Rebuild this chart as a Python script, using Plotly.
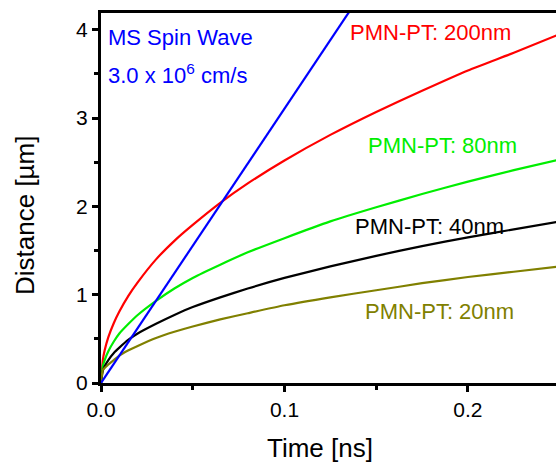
import plotly.graph_objects as go

# Time axis (ns)
t = [0, 0.001, 0.002, 0.004, 0.007, 0.01, 0.015, 0.02, 0.03, 0.04, 0.05, 0.065, 0.08,
     0.1, 0.125, 0.15, 0.175, 0.2, 0.225, 0.25]

# Distance (um)
d_200nm = [0, 0.26, 0.37, 0.52, 0.68, 0.81, 0.99, 1.14, 1.40, 1.61, 1.79, 2.04, 2.26,
           2.52, 2.81, 3.07, 3.31, 3.54, 3.74, 3.95]
d_80nm = [0, 0.19, 0.26, 0.36, 0.47, 0.56, 0.67, 0.77, 0.93, 1.07, 1.19, 1.34, 1.48,
          1.64, 1.83, 1.99, 2.14, 2.28, 2.41, 2.53]
d_40nm = [0, 0.14, 0.19, 0.26, 0.34, 0.40, 0.49, 0.56, 0.67, 0.77, 0.86, 0.97, 1.07,
          1.19, 1.32, 1.44, 1.55, 1.65, 1.74, 1.83]
d_20nm = [0, 0.15, 0.17, 0.21, 0.26, 0.31, 0.37, 0.42, 0.51, 0.58, 0.64, 0.72, 0.79,
          0.88, 0.97, 1.05, 1.13, 1.20, 1.26, 1.32]

# MS spin wave line
t_sw = [0, 0.14]
d_sw = [0, 4.35]

labels = ["PMN-PT: 200nm", "PMN-PT: 80nm", "PMN-PT: 40nm", "PMN-PT: 20nm"]
colors = ["#FF0000", "#00EE00", "#000000", "#808000"]

FONT = "Liberation Sans, Arial, sans-serif"

fig = go.Figure()
for ys, lab, c in zip([d_200nm, d_80nm, d_40nm, d_20nm], labels, colors):
    fig.add_trace(go.Scatter(x=t, y=ys, mode="lines", name=lab,
                             line=dict(color=c, width=2.2, shape="spline", smoothing=0.5)))
fig.add_trace(go.Scatter(x=t_sw, y=d_sw, mode="lines", name="MS Spin Wave",
                         line=dict(color="#0000FF", width=2.2)))

W, H = 556, 464
L, T = 101, 13
B = H - 383
pw = W - L
ph = H - B - T


def px(x):
    return (x - L) / pw


def py(y):
    return (H - B - y) / ph


ann = [
    ("MS Spin Wave", 106, 38, "#0000FF"),
    ("3.0 x 10<sup>6</sup> cm/s", 106, 74, "#0000FF"),
    (labels[0], 348, 32, colors[0]),
    (labels[1], 366, 145, colors[1]),
    (labels[2], 353, 226, colors[2]),
    (labels[3], 363, 311, colors[3]),
]
for txt, x, y, c in ann:
    fig.add_annotation(x=px(x), y=py(y), xref="paper", yref="paper", text=txt,
                       showarrow=False, xanchor="left", yanchor="middle",
                       font=dict(family=FONT, size=22, color=c))

fig.add_annotation(x=px(320), y=py(448), xref="paper", yref="paper", text="Time [ns]",
                   showarrow=False, xanchor="center", yanchor="middle",
                   font=dict(family=FONT, size=26, color="black"))
fig.add_annotation(x=px(25), y=py(216), xref="paper", yref="paper", text="Distance [µm]",
                   showarrow=False, xanchor="center", yanchor="middle", textangle=-90,
                   font=dict(family=FONT, size=26, color="black"))

fig.update_layout(
    width=W, height=H,
    margin=dict(l=L, r=0, t=T, b=B),
    paper_bgcolor="white", plot_bgcolor="white",
    showlegend=False,
    font=dict(family=FONT, size=21, color="black"),
    xaxis=dict(range=[0, 0.248], tickvals=[0, 0.1, 0.2], ticktext=["0.0", "0.1", "0.2"],
               ticks="outside", ticklen=6, tickwidth=2.5, tickcolor="black",
               showline=True, linewidth=3, linecolor="black", mirror=True,
               showgrid=False, zeroline=False,
               minor=dict(tickvals=[0.05, 0.15], ticks="outside", ticklen=4, tickwidth=2.5,
                          tickcolor="black"),
               tickfont=dict(size=21)),
    yaxis=dict(range=[0, 4.19], tickvals=[0, 1, 2, 3, 4],
               ticks="outside", ticklen=6, tickwidth=2.5, tickcolor="black",
               showline=True, linewidth=3, linecolor="black",
               showgrid=False, zeroline=False,
               minor=dict(tickvals=[0.5, 1.5, 2.5, 3.5], ticks="outside", ticklen=4,
                          tickwidth=2.5, tickcolor="black"),
               tickfont=dict(size=21)),
)

fig.write_html("out.html", config={"displayModeBar": False},
               post_script="document.body.style.margin='0';document.body.style.overflow='hidden';")
